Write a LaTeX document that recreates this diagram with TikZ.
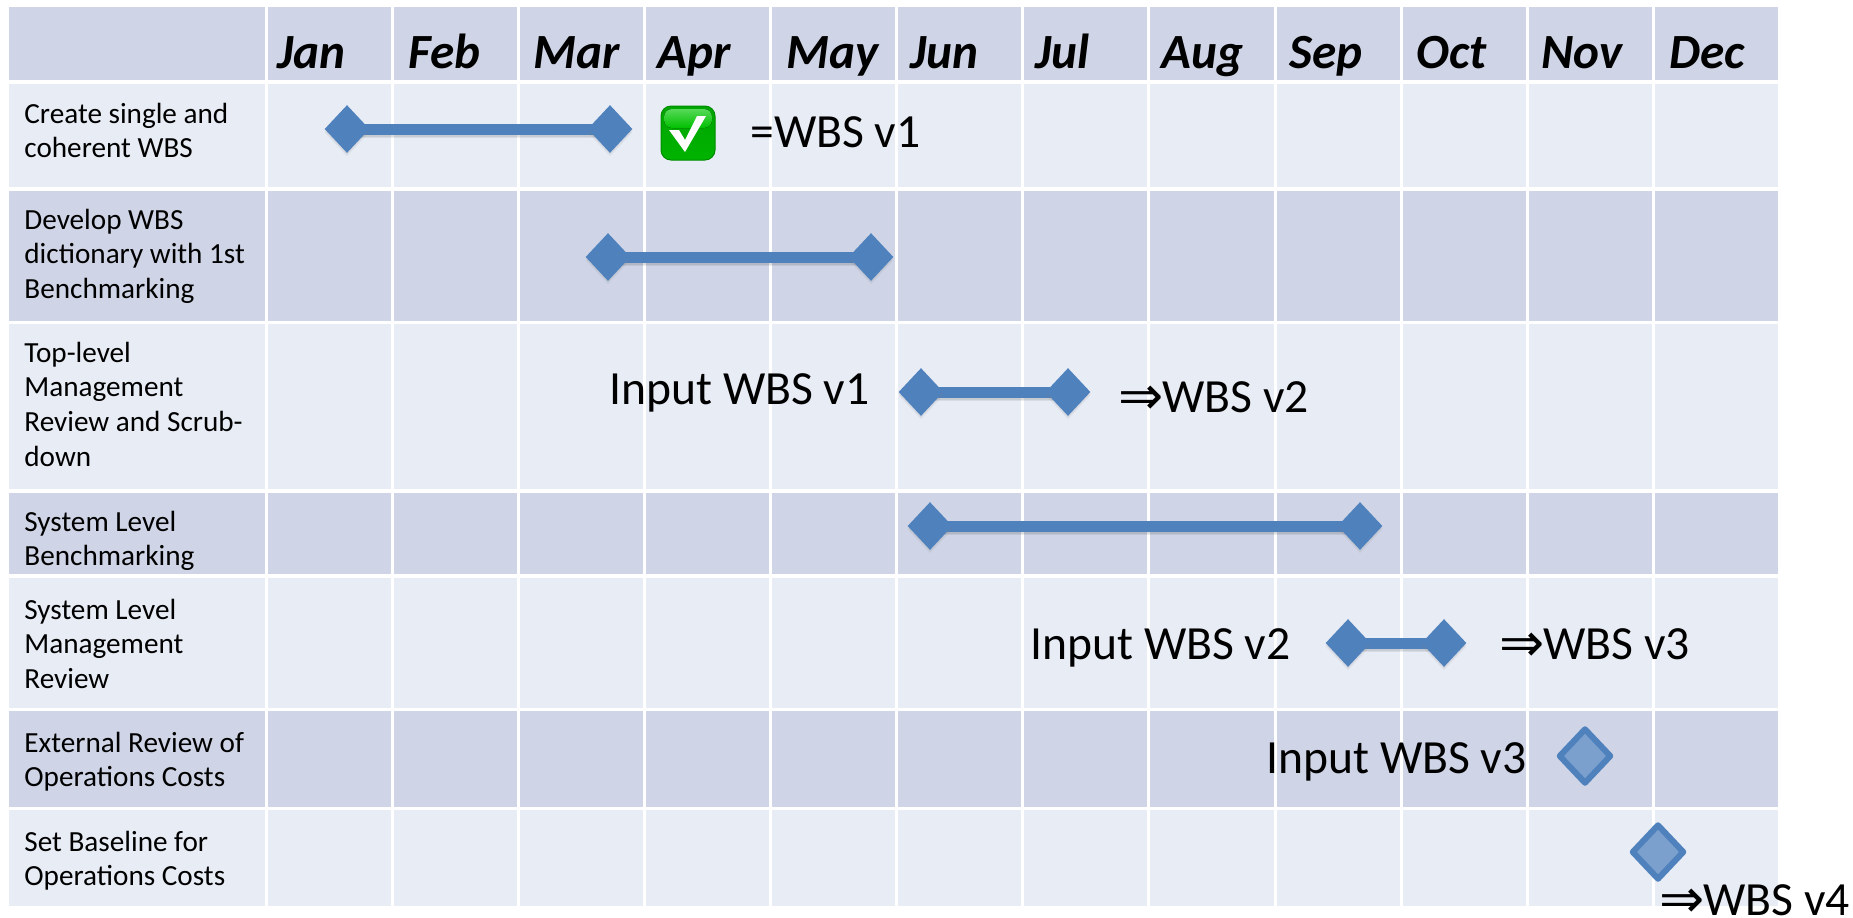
\documentclass[tikz,border=0pt]{standalone}
\usepackage{fontspec}
\setmainfont{Carlito}
\newfontfamily\arrowfont{DejaVu Sans}
\usetikzlibrary{shapes.geometric,shadows}
\definecolor{rowdark}{HTML}{CFD5E6}
\definecolor{rowlight}{HTML}{E8ECF5}
\definecolor{barblue}{HTML}{4F81BD}
\definecolor{openblue}{HTML}{7BA0CD}
\tikzset{
  x=0.5pt,y=-0.5pt,
  rowdarkfill/.style={fill=rowdark,draw=none},
  rowlightfill/.style={fill=rowlight,draw=none},
  gridline/.style={draw=white,line width=1.5pt},
  softshadow/.style={drop shadow={shadow xshift=0pt,shadow yshift=-1pt,opacity=.1},drop shadow={shadow xshift=0pt,shadow yshift=-1.8pt,opacity=.08}},
  solidms/.style={diamond,aspect=0.92,minimum width=22.5pt,minimum height=24pt,inner sep=0pt,fill=barblue,draw=none,softshadow},
  openms/.style={diamond,aspect=0.95,minimum width=26.5pt,minimum height=28pt,inner sep=0pt,fill=openblue,draw=barblue,line width=3pt,line join=round,softshadow},
  taskbar/.style={draw=barblue,line width=5.5pt},
  barshadow/.style={draw=black,opacity=.07,line width=5.5pt},
  monthlabel/.style={anchor=base west,inner sep=0pt,font=\fontsize{24.6}{29}\selectfont\bfseries\itshape},
  tasklabel/.style={anchor=base west,inner sep=0pt,font=\fontsize{14.6}{17.4}\selectfont},
  biglabel/.style={anchor=base west,inner sep=0pt,font=\fontsize{23.8}{28}\selectfont},
}
\newcommand{\imp}{\makebox[22pt][l]{\smash{\raisebox{-1pt}{\fontsize{27}{28}\selectfont\arrowfont ⇒}}}}
\begin{document}
\begin{tikzpicture}
\useasboundingbox (0,0) rectangle (1853,917);
% rows
\fill[rowdarkfill] (9,7) rectangle (1778,80);
\fill[rowlightfill] (9,84) rectangle (1778,187);
\fill[rowdarkfill] (9,191) rectangle (1778,321);
\fill[rowlightfill] (9,324) rectangle (1778,489);
\fill[rowdarkfill] (9,493) rectangle (1778,574);
\fill[rowlightfill] (9,578) rectangle (1778,708);
\fill[rowdarkfill] (9,711) rectangle (1778,807);
\fill[rowlightfill] (9,810) rectangle (1778,906);
\foreach \cx in {266,392,518,644,770,896,1022,1148,1275,1401,1527,1653}
  \draw[gridline] (\cx,7) -- (\cx,906);
% months
\node[monthlabel] (jan) at (277,68) {Jan};
\node[monthlabel] (feb) at (408,68) {Feb};
\node[monthlabel] (mar) at (533,68) {Mar};
\node[monthlabel] (apr) at (657,68) {Apr};
\node[monthlabel] (may) at (786,68) {May};
\node[monthlabel] (jun) at (910,68) {Jun};
\node[monthlabel] (jul) at (1035,68) {Jul};
\node[monthlabel] (aug) at (1161,68) {Aug};
\node[monthlabel] (sep) at (1289,68) {Sep};
\node[monthlabel] (oct) at (1416,68) {Oct};
\node[monthlabel] (nov) at (1541,68) {Nov};
\node[monthlabel] (dec) at (1669,68) {Dec};
% task labels
\node[tasklabel] (t1) at (24,123) {\begin{tabular}[t]{@{}l@{}}Create single and\\coherent WBS\end{tabular}};
\node[tasklabel] (t2) at (24,229) {\begin{tabular}[t]{@{}l@{}}Develop WBS\\dictionary with 1st\\Benchmarking\end{tabular}};
\node[tasklabel] (t3) at (24,362) {\begin{tabular}[t]{@{}l@{}}Top-level\\Management\\Review and Scrub-\\down\end{tabular}};
\node[tasklabel] (t4) at (24,531) {\begin{tabular}[t]{@{}l@{}}System Level\\Benchmarking\end{tabular}};
\node[tasklabel] (t5) at (24,619) {\begin{tabular}[t]{@{}l@{}}System Level\\Management\\Review\end{tabular}};
\node[tasklabel] (t6) at (24,752) {\begin{tabular}[t]{@{}l@{}}External Review of\\Operations Costs\end{tabular}};
\node[tasklabel] (t7) at (24,851) {\begin{tabular}[t]{@{}l@{}}Set Baseline for\\Operations Costs\end{tabular}};
% milestones
\coordinate (a1c) at (347,129); \coordinate (a2c) at (610,129);
\coordinate (b1c) at (608,257); \coordinate (b2c) at (871,257);
\coordinate (c1c) at (921,392); \coordinate (c2c) at (1068,392);
\coordinate (d1c) at (930,526); \coordinate (d2c) at (1360,526);
\coordinate (e1c) at (1348,643); \coordinate (e2c) at (1444,643);
\foreach \p/\q in {a1c/a2c,b1c/b2c,c1c/c2c,d1c/d2c,e1c/e2c}{
  \draw[barshadow] ([yshift=-1pt]\p) -- ([yshift=-1pt]\q);
  \draw[barshadow] ([yshift=-1.8pt]\p) -- ([yshift=-1.8pt]\q);
  \draw[taskbar] (\p) -- (\q);
}
\node[solidms] (a1) at (a1c) {}; \node[solidms] (a2) at (a2c) {};
\node[solidms] (b1) at (b1c) {}; \node[solidms] (b2) at (b2c) {};
\node[solidms] (c1) at (c1c) {}; \node[solidms] (c2) at (c2c) {};
\node[solidms] (d1) at (d1c) {}; \node[solidms] (d2) at (d2c) {};
\node[solidms] (e1) at (e1c) {}; \node[solidms] (e2) at (e2c) {};
\node[openms] (f) at (1585,756) {};
\node[openms] (g) at (1658,852) {};
% check mark
\draw[draw=green!55!black,line width=.5pt,top color=green!65!black,bottom color=green!70!black,rounded corners=5pt] (661,106) rectangle (715,160);
\fill[rounded corners=4pt,top color=green!60!white!85!black,bottom color=green!75!black] (664,109) rectangle (712,128);
\fill[white] (669,130) -- (679,130) -- (685,140) -- (697,116) -- (706,116) -- (685,152) -- cycle;
% big labels
\node[biglabel] (l1) at (750,147) {=WBS v1};
\node[biglabel] (l2) at (609,404) {Input WBS v1};
\node[biglabel] (l3) at (1118,412) {\imp WBS v2};
\node[biglabel] (l4) at (1030,659) {Input WBS v2};
\node[biglabel] (l5) at (1499,659) {\imp WBS v3};
\node[biglabel] (l6) at (1266,773) {Input WBS v3};
\node[biglabel] (l7) at (1659,915) {\imp WBS v4};
\end{tikzpicture}
\end{document}
